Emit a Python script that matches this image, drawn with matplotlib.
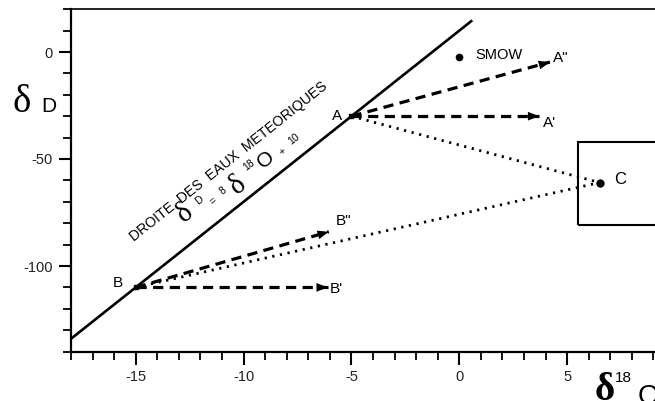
import numpy as np
import matplotlib.pyplot as plt
from matplotlib.patches import Rectangle
from matplotlib.ticker import MultipleLocator

plt.rcParams['font.family'] = ['Liberation Sans', 'DejaVu Sans']
plt.rcParams['axes.unicode_minus'] = False

# points (delta 18O, delta D)
pt_a = (-5, -30)
pt_b = (-15, -110)
pt_c = (6.5, -61)
smow = (0, -2.3)

# meteoric water line: dD = 8 d18O + 10
mwl_x = np.array([-18, 0.6])
mwl_slope = 8
mwl_icpt = 10

# arrow tips
tip_a1 = (3.7, -30)     # A'
tip_a2 = (4.2, -4.7)    # A"
tip_b1 = (-6.1, -110)   # B'
tip_b2 = (-6.05, -84)   # B"

# box around C
box_x0 = 5.5
box_y = (-81, -42)

fig = plt.figure(figsize=(6.55, 4.01), dpi=100)
ax = fig.add_axes([71 / 655, 49.4 / 401, 1 - 71 / 655, 342.4 / 401])
ax.set_xlim(-18, 9.07)
ax.set_ylim(-140, 20)

ax.spines['right'].set_visible(False)
for s in ['left', 'bottom']:
    ax.spines[s].set_linewidth(1.6)
ax.spines['top'].set_linewidth(1.2)

ax.xaxis.set_major_locator(MultipleLocator(5))
ax.xaxis.set_minor_locator(MultipleLocator(1))
ax.yaxis.set_major_locator(MultipleLocator(50))
ax.yaxis.set_minor_locator(MultipleLocator(10))
ax.tick_params(which='major', length=9, width=1.5, labelsize=10.5, pad=4, labelcolor='#222')
ax.tick_params(which='minor', length=5.5, width=1.3)
ax.set_xticks([-15, -10, -5, 0, 5])
ax.set_yticks([-100, -50, 0])

# meteoric line
ax.plot(mwl_x, mwl_slope * mwl_x + mwl_icpt, color='k', lw=1.9, solid_capstyle='butt')

# dotted mixing lines to C
for p in (pt_a, pt_b):
    ax.plot([p[0], pt_c[0]], [p[1], pt_c[1]], color='k', lw=2.0,
            linestyle=(0, (0.8, 2.0)))

# dashed arrows
def dashed_arrow(p, tip):
    ax.plot([p[0], tip[0]], [p[1], tip[1]], color='k', lw=2.3,
            linestyle=(0, (3.2, 2.0)))
    back = (tip[0] - 0.08 * (tip[0] - p[0]), tip[1] - 0.08 * (tip[1] - p[1]))
    ax.annotate('', xy=tip, xytext=back,
                arrowprops=dict(arrowstyle='-|>,head_length=0.9,head_width=0.35',
                                color='k', lw=0, shrinkA=0, shrinkB=0,
                                mutation_scale=9))

dashed_arrow(pt_a, tip_a1)
dashed_arrow(pt_a, tip_a2)
dashed_arrow(pt_b, tip_b1)
dashed_arrow(pt_b, tip_b2)

# box and points
ax.add_patch(Rectangle((box_x0, box_y[0]), 10, box_y[1] - box_y[0],
                       fill=False, lw=1.5, ec='k'))
ax.plot(*pt_a, 'ks', ms=3)
ax.plot(*pt_b, 'ks', ms=3)
ax.plot(*smow, 'ko', ms=4.5)
ax.plot(*pt_c, 'ko', ms=5)

lbl = dict(fontsize=11, ha='center', va='center')
ax.text(-5.65, -29.8, 'A', **lbl)
ax.text(-15.85, -108, 'B', **lbl)
ax.text(tip_a1[0] + 0.5, -33, "A'", **lbl)
ax.text(tip_a2[0] + 0.5, -2.8, 'A"', **lbl)
ax.text(tip_b1[0] + 0.4, -110.7, "B'", **lbl)
ax.text(-5.35, -79, 'B"', **lbl)
ax.text(7.45, -59.8, 'C', fontsize=12, ha='center', va='center')
ax.text(1.85, -1.4, 'SMOW', fontsize=10.5, ha='center', va='center')

# angle of the meteoric line on screen
p0 = ax.transData.transform((mwl_x[0], mwl_slope * mwl_x[0] + mwl_icpt))
p1 = ax.transData.transform((mwl_x[1], mwl_slope * mwl_x[1] + mwl_icpt))
ang = np.degrees(np.arctan2(p1[1] - p0[1], p1[0] - p0[0]))

ax.text(-10.7, -51.4, 'DROITE  DES  EAUX  METEORIQUES', fontsize=10.2,
        rotation=ang, rotation_mode='anchor', ha='center', va='center')

# equation written piece by piece along the line
serif = 'Liberation Serif'
sans = 'Liberation Sans'
eq_pieces = [
    ('δ', serif, 21, -12.71, -75.5),
    ('D', sans, 7.5, -12.05, -69.3),
    ('=', sans, 7.5, -11.42, -69.7),
    ('8', sans, 7.5, -10.95, -64.9),
    ('δ', serif, 21, -10.26, -62.2),
    ('18', sans, 7.5, -9.75, -53.0),
    ('O', sans, 15, -8.96, -50.5),
    ('+', sans, 7.5, -8.2, -46.3),
    ('10', sans, 7.5, -7.65, -40.7),
]
for s, fam, fs, x, y in eq_pieces:
    ax.text(x, y, s, family=fam, fontsize=fs, rotation=ang,
            rotation_mode='anchor', ha='center', va='center')

# axis labels
fig.text(12 / 655, (401 - 112) / 401, 'δ', family=serif, fontsize=28,
         va='baseline', ha='left')
fig.text(41 / 655, (401 - 112) / 401, 'D', fontsize=15, va='baseline', ha='left')
fig.text(595 / 655, 1 / 401, 'δ', family=serif, fontsize=28, fontweight='bold',
         va='baseline', ha='left')
fig.text(615 / 655, (401 - 382) / 401, '18', fontsize=11, va='baseline', ha='left')
fig.text(638 / 655, -3 / 401, 'O', fontsize=20, va='baseline', ha='left')

fig.savefig('out.png', dpi=100)
